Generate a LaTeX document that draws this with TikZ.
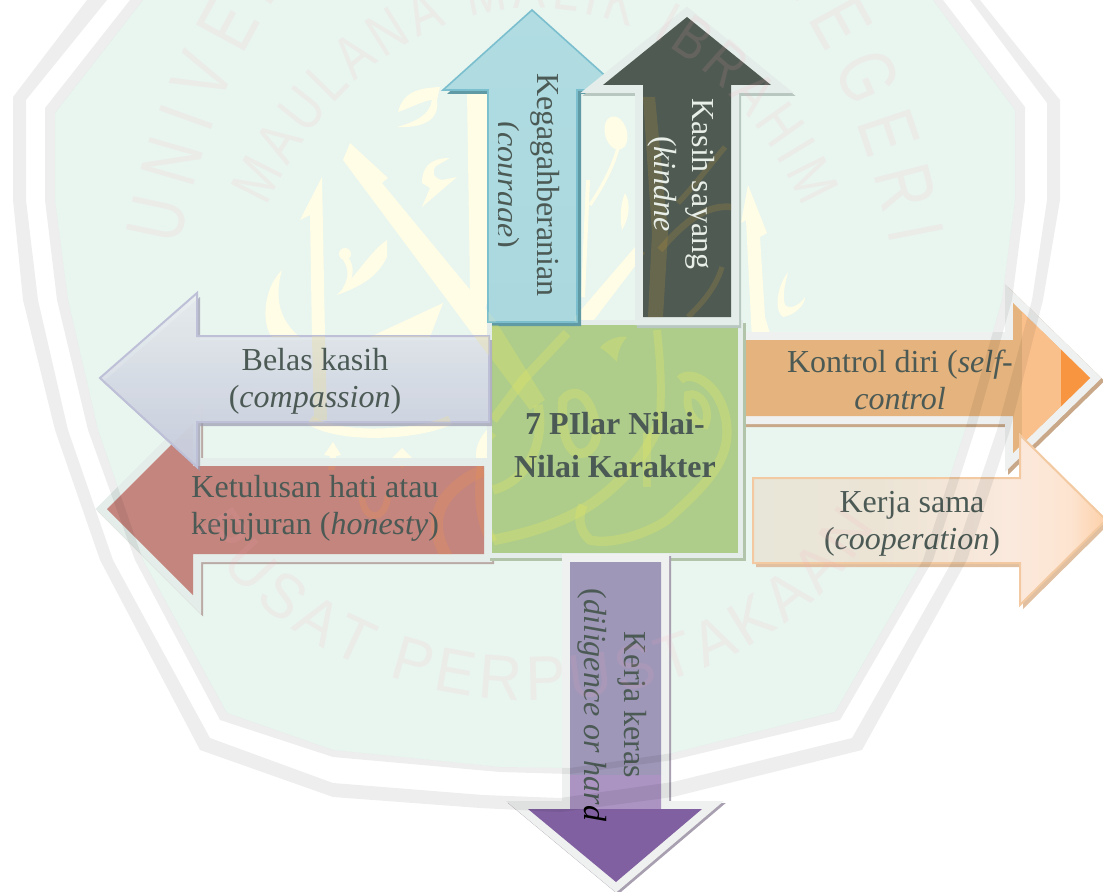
\documentclass[tikz,border=0pt]{standalone}
\usepackage{fontspec}
\usetikzlibrary{decorations.text}
\setmainfont{Liberation Serif}
\newfontfamily\wmfA[FakeStretch=0.74]{Liberation Sans}
\newfontfamily\wmfB[FakeStretch=0.80]{Liberation Sans}
\newfontfamily\wmfC[FakeStretch=0.95]{Liberation Sans}
\definecolor{bggreen}{HTML}{E9F5EF}
\definecolor{wmletter}{HTML}{FDA5BC}
\definecolor{calbase}{HTML}{FFFDE6}
\definecolor{txtdark}{HTML}{4C5A55}
\definecolor{halogreen}{HTML}{E4EDE9}
\definecolor{halolight}{HTML}{EFF1F0}
\definecolor{kerjaA}{HTML}{E8E6D8}
\definecolor{kerjaB}{HTML}{EBE4D5}
\definecolor{kerjaC}{HTML}{FBE9DD}
\definecolor{kerjaD}{HTML}{FDE4D0}
\definecolor{kerjaE}{HTML}{FDD0A8}
\pgfdeclarehorizontalshading{kerjashade}{100bp}{color(0bp)=(kerjaA); color(25bp)=(kerjaA); color(43bp)=(kerjaB); color(62bp)=(kerjaC); color(70bp)=(kerjaD); color(75bp)=(kerjaE); color(100bp)=(kerjaE)}
\tikzset{
  x=0.75pt,y=-0.75pt,
  lab/.style={font=\fontsize{24}{27.75}\selectfont,align=center,text=txtdark,inner sep=0pt},
  labv/.style={font=\fontsize{24}{30}\selectfont,align=center,inner sep=0pt,rotate=-90},
  halo/.style={line width=12pt,miter limit=10,line join=miter},
}
% arrow outlines
\newcommand\pblue{(532,10)--(621,90)--(577,90)--(577,322)--(488,322)--(488,90)--(443,90)--cycle}
\newcommand\pdark{(687,17)--(771,85)--(731,85)--(731,317)--(643,317)--(643,85)--(603,85)--cycle}
\newcommand\pbelas{(100,378)--(197,293)--(197,336)--(489,336)--(489,422)--(197,422)--(197,467)--cycle}
\newcommand\pred{(107,509)--(193,423)--(193,466)--(484,466)--(484,554)--(193,554)--(193,595)--cycle}
\newcommand\pkontrol{(1090,378)--(1013,303)--(1013,340)--(746,340)--(746,416)--(1013,416)--(1013,453)--cycle}
\newcommand\pkerja{(1106,520)--(1020,435)--(1020,478)--(753,478)--(753,563)--(1020,563)--(1020,605)--cycle}
\newcommand\ppurple{(616,882)--(702,809)--(661,809)--(661,562)--(570,562)--(570,809)--(528,809)--cycle}
\newcommand\pbox{(492,325)--(738,325)--(738,553)--(492,553)--cycle}
% watermark outlines
\newcommand\ringA{(87,-10)--(87,0)--(13,97)--(13,200)--(23,300)--(55,430)--(100,560)--(200,750)--(333,797)--(480,808)--(560,812)--(673,797)--(862,750)--(967,560)--(1010,430)--(1043,300)--(1060,200)--(1060,100)--(980,0)--(980,-10)--cycle}
\newcommand\ringB{(107,-10)--(107,0)--(26,100)--(26,200)--(38,300)--(68,430)--(113,560)--(210,738)--(333,783)--(483,795)--(560,798)--(673,782)--(852,738)--(953,560)--(997,430)--(1032,300)--(1047,200)--(1047,103)--(970,0)--(970,-10)--cycle}
\newcommand\ringC{(130,-10)--(130,0)--(45,108)--(45,200)--(57,300)--(88,430)--(135,560)--(220,720)--(333,757)--(500,772)--(570,774)--(673,760)--(840,720)--(933,560)--(975,430)--(1012,300)--(1025,200)--(1025,107)--(943,0)--(943,-10)--cycle}
\newcommand\ringD{(143,-10)--(143,0)--(55,113)--(55,200)--(68,300)--(98,430)--(143,560)--(227,713)--(333,750)--(500,767)--(570,768)--(673,753)--(835,712)--(923,560)--(965,430)--(1002,300)--(1015,200)--(1015,110)--(933,0)--(933,-10)--cycle}
% calligraphy of the watermark
\newcommand\calligraphy{%
  % left: alif, long diagonal, stem, sweeps, small letters
  \fill (322,177)--(300,220)--(310,215)--(312,337)--(314,420)--(327,420)--(325,337)--cycle;
  \fill (350,143)--(388,178)--(382,183)--(495,320)--(545,400)--(530,410)--(477,340)--(343,160)--cycle;
  \fill (467,90)--(488,90)--(488,300)--(484,312)--(478,325)--(470,290)--cycle;
  \fill (282,270) .. controls (262,290) and (262,325) .. (272,337) -- (300,337) .. controls (285,325) and (272,305) .. (282,270)--cycle;
  \fill (443,303)--(370,337)--(430,337)--cycle;
  \fill (387,240) .. controls (372,250) and (362,268) .. (337,295) .. controls (365,285) and (378,275) .. (387,257)--cycle;
  \fill (345,254) circle[radius=6];
  \fill (349,258) .. controls (356,270) and (352,280) .. (346,290) -- (343,288) .. controls (350,275) and (348,268) .. (343,260)--cycle;
  \fill (450,158) .. controls (430,158) and (422,167) .. (422,183) -- (430,188)--(422,207) -- (457,177) -- (442,180) .. controls (432,178) and (432,170) .. (436,166)--cycle;
  \fill (440,87) .. controls (418,88) and (403,92) .. (398,112) .. controls (410,108) and (425,100) .. (432,100) .. controls (430,115) and (415,122) .. (397,127) .. controls (420,128) and (440,122) .. (437,100)--cycle;
  % right: drop, tear, diagonal, alif, crescent
  \fill[rotate around={15:(616,133)}] (616,133) ellipse[x radius=11,y radius=17];
  \draw[line width=2.5pt] (618,148) .. controls (612,170) and (600,190) .. (590,205);
  \draw[line width=3pt] (588,180)--(583,297);
  \fill (625,193) .. controls (620,205) and (620,220) .. (622,230) .. controls (628,220) and (632,205) .. (625,193)--cycle;
  \fill (635,247)--(645,253)--(590,325)--(575,325)--(575,317)--cycle;
  \fill (748,185)--(741,223)--(746,220)--(752,340)--(772,340)--(765,317)--(760,237)--(767,233)--cycle;
  \fill (788,272) .. controls (775,290) and (775,312) .. (783,317) .. controls (795,315) and (805,305) .. (805,297) .. controls (800,305) and (790,310) .. (785,305) .. controls (782,295) and (785,285) .. (788,272)--cycle;
  % brown strokes seen on the dark arrow
  \fill (643,97)--(655,97)--(668,233)--(663,317)--(648,317)--(652,233)--cycle;
  \draw[line width=5pt] (660,250) .. controls (690,215) and (710,205) .. (732,207);
  \draw[line width=4pt] (725,147) .. controls (710,165) and (695,185) .. (678,203);
  \draw[line width=4pt] (722,267) .. controls (715,290) and (700,305) .. (688,317);
  % gap between the two left arrows and left of the square
  \draw[line width=7pt] (310,420) .. controls (340,440) and (420,435) .. (450,420);
  \fill (333,442)--(324,455)--(330,456)--(328,470)--(335,470)--(336,456)--(341,455)--cycle;
  \fill (402,448)--(412,458)--(402,468)--(392,458)--cycle;
  \draw[line width=5pt] (362,495) .. controls (362,520) and (385,525) .. (388,495);
  \draw[line width=8pt] (492,432) .. controls (480,445) and (480,455) .. (483,465) .. controls (478,490) and (480,520) .. (492,542);
  \draw[line width=9pt] (483,470) .. controls (440,490) and (425,520) .. (447,557);
  % on the central square
  \draw[line width=7pt] (567,333) -- (523,380) -- (493,420);
  \draw[line width=7pt] (538,405) .. controls (545,440) and (530,480) .. (493,490);
  \draw[line width=7pt] (563,400) .. controls (570,390) and (590,385) .. (597,433) .. controls (595,450) and (585,455) .. (577,453) .. controls (568,450) and (560,430) .. (563,400)--cycle;
  \draw[line width=7pt] (680,380) .. controls (690,368) and (725,385) .. (727,430) .. controls (728,465) and (700,490) .. (667,520) .. controls (645,535) and (610,545) .. (590,540) .. controls (578,530) and (578,515) .. (583,505);
  \draw[line width=6pt] (688,395) .. controls (700,390) and (712,410) .. (705,425) .. controls (695,425) and (685,410) .. (688,395)--cycle;
  \fill (600,348) .. controls (605,340) and (620,335) .. (627,337) .. controls (620,345) and (618,352) .. (617,362) .. controls (610,355) and (605,350) .. (600,348)--cycle;
  \draw[line width=6pt] (657,330) .. controls (660,360) and (662,380) .. (660,420);
  \draw[line width=8pt] (493,540) .. controls (520,535) and (560,525) .. (593,503) .. controls (625,480) and (650,450) .. (660,420);
  \draw[line width=6pt] (647,433) -- (647,487);
}
\begin{document}
\begin{tikzpicture}
\useasboundingbox (0,0) rectangle (1103,892);
\clip (0,0) rectangle (1103,892);
\fill[white] (0,0) rectangle (1103,892);
% watermark, lower layer
\fill[bggreen] \ringD;
\begin{scope}[draw=calbase,fill=calbase]
  \calligraphy
\end{scope}

% red arrow
\draw[halo,draw={rgb,255:red,186;green,170;blue,165},shift={(2,2)}] \pred;
\draw[halo,draw=halogreen] \pred;
\fill[fill={rgb,255:red,196;green,133;blue,126}] \pred;
% orange arrow
\draw[halo,draw={rgb,255:red,200;green,168;blue,136},shift={(3,3)}] \pkontrol;
\draw[halo,draw=halolight] \pkontrol;
\begin{scope}
  \clip \pkontrol;
  \fill[fill={rgb,255:red,229;green,179;blue,125}] (740,290) rectangle (1110,470);
  \fill[fill={rgb,255:red,250;green,192;blue,140}] (1022,290) rectangle (1110,470);
  \fill[fill={rgb,255:red,248;green,149;blue,64}] (1061,290) rectangle (1110,470);
\end{scope}
% centre square
\draw[halo,line width=8pt,draw={rgb,255:red,178;green,196;blue,170},shift={(3,3)}] \pbox;
\draw[halo,line width=8pt,draw=halogreen] \pbox;
\fill[fill={rgb,255:red,174;green,205;blue,138}] \pbox;
% blue arrow
\fill[fill={rgb,255:red,95;green,154;blue,165},shift={(4,4)}] \pblue;
\shade[top color={rgb,255:red,176;green,220;blue,226},middle color={rgb,255:red,112;green,189;blue,208},bottom color={rgb,255:red,170;green,216;blue,222}] \pblue;
\draw[line width=1.2pt,draw={rgb,255:red,123;green,191;blue,207}] \pblue;
% dark arrow
\draw[halo,draw={rgb,255:red,184;green,200;blue,192},shift={(2,3)}] \pdark;
\draw[halo,draw=halogreen] \pdark;
\fill[fill={rgb,255:red,79;green,90;blue,82}] \pdark;
% purple arrow
\draw[halo,draw={rgb,255:red,168;green,160;blue,176},shift={(2,2)}] \ppurple;
\draw[halo,draw=halolight] \ppurple;
\begin{scope}
  \clip \ppurple;
  \fill[fill={rgb,255:red,158;green,151;blue,184}] (520,555) rectangle (710,775);
  \fill[fill={rgb,255:red,171;green,147;blue,194}] (520,775) rectangle (710,809);
  \fill[fill={rgb,255:red,128;green,96;blue,160}] (520,809) rectangle (710,890);
\end{scope}
% belas kasih arrow
\fill[fill={rgb,255:red,154;green,154;blue,176},opacity=.7,shift={(3,4)}] \pbelas;
\shade[top color={rgb,255:red,234;green,240;blue,240},bottom color={rgb,255:red,200;green,206;blue,222},opacity=.92] \pbelas;
\draw[line width=1.5pt,draw={rgb,255:red,190;green,192;blue,216}] \pbelas;
% kerja sama arrow
\fill[fill={rgb,255:red,224;green,192;blue,160},shift={(3,4)}] \pkerja;
\shade[shading=kerjashade] \pkerja;
\draw[line width=1.5pt,draw={rgb,255:red,242;green,201;blue,160}] \pkerja;

% watermark, upper layer: calligraphy seen through the shapes
\begin{scope}[draw={rgb,255:red,232;green,232;blue,96},fill={rgb,255:red,232;green,232;blue,96},opacity=.28]
  \clip \pbox;
  \calligraphy
\end{scope}
\begin{scope}[draw={rgb,255:red,190;green,150;blue,60},fill={rgb,255:red,190;green,150;blue,60},opacity=.22]
  \clip \pdark;
  \calligraphy
\end{scope}
\begin{scope}[draw={rgb,255:red,235;green,145;blue,85},fill={rgb,255:red,235;green,145;blue,85},opacity=.3]
  \clip \pred;
  \calligraphy
\end{scope}
\begin{scope}[draw={rgb,255:red,240;green,225;blue,150},fill={rgb,255:red,240;green,225;blue,150},opacity=.3]
  \clip \pbelas;
  \calligraphy
\end{scope}
\begin{scope}[draw={rgb,255:red,230;green,235;blue,190},fill={rgb,255:red,230;green,235;blue,190},opacity=.2]
  \clip \pblue;
  \calligraphy
\end{scope}
\begin{scope}[draw={rgb,255:red,255;green,190;blue,110},fill={rgb,255:red,255;green,190;blue,110},opacity=.5]
  \clip \pkontrol;
  \calligraphy
\end{scope}

% labels
\node[lab] (belas) at (315,381) {Belas kasih\\(\textit{compassion})};
\node[lab] (ketulusan) at (315,508) {Ketulusan hati atau\\kejujuran (\textit{honesty})};
\node[lab] (kontrol) at (900,380) {Kontrol diri (\textit{self-}\\\textit{control}};
\node[lab] (kerja) at (912,524) {Kerja sama\\(\textit{cooperation})};
\node[lab,font=\fontsize{24}{32.25}\selectfont\bfseries] (pilar) at (615,445) {7 PIlar Nilai-\\Nilai Karakter};
\begin{scope}
  \clip (498,20) rectangle (620,320);
  \node[labv,text=txtdark] (kegagah) at (525,185) {Kegagahberanian\\(\textit{courage})};
\end{scope}
\node[labv,text={rgb,255:red,232;green,238;blue,232},font=\fontsize{24}{28.5}\selectfont] (kasih) at (681,184) {Kasih sayang\\(\textit{kindne}};
\node[labv,text=txtdark] (keras) at (612,705) {Kerja keras\\(\textit{diligence or har\textcolor{black}{d}}};

\fill[black,opacity=.065,even odd rule] \ringA \ringB;
\fill[black,opacity=.065,even odd rule] \ringC \ringD;
\begin{scope}[opacity=.12]
  \path[decorate,decoration={text along path,text align={fit to path},
    text={|\wmfA\fontsize{60}{62}\selectfont\color{wmletter}|UNIVERSITAS ISLAM NEGERI}}]
    (180,246) arc[start angle=-164.2,end angle=-15.8,x radius=369,y radius=565];
  \path[decorate,decoration={text along path,text align={fit to path},
    text={|\wmfB\fontsize{45}{48}\selectfont\color{wmletter}|MAULANA MALIK IBRAHIM}}]
    (267,207) arc[start angle=-150.5,end angle=-29.5,x radius=308,y radius=391];
  \path[decorate,decoration={text along path,text align={fit to path},
    text={|\wmfC\fontsize{47}{50}\selectfont\color{wmletter}|PUSAT PERPUSTAKAAN}}]
    (195,527) arc[start angle=155,end angle=25,x radius=375,y radius=300];
\end{scope}
\end{tikzpicture}
\end{document}
